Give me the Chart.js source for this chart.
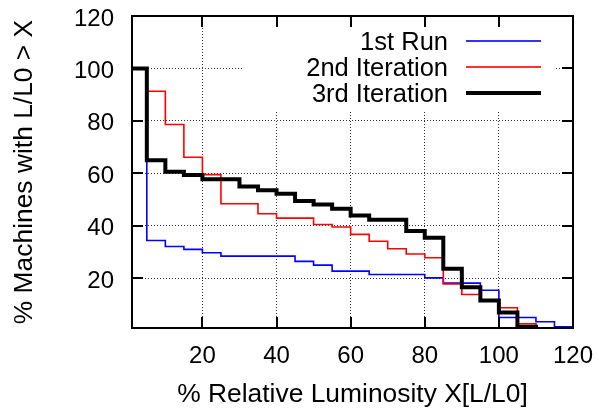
<!DOCTYPE html>
<html lang="en">
<head>
<meta charset="UTF-8">
<title>Relative Luminosity</title>
<script src="https://cdn.jsdelivr.net/npm/chart.js"></script>
<style>
  html, body { margin: 0; padding: 0; background: #fff; overflow: hidden; }
  #wrap { position: relative; width: 599px; height: 409px; }
  canvas { display: block; }
  .frame { position: absolute; box-sizing: border-box; border: 2px solid #000; pointer-events: none; }
  .tick { position: absolute; background: #000; pointer-events: none; }
</style>
</head>
<body>
<div id="wrap"><canvas id="lumChart" width="599" height="409"></canvas></div>
<script>
// --- DATA ---
// bin edges in % relative luminosity, one value per bin (% machines above X)
const binEdges = [0, 5, 10, 15, 20, 25, 30, 35, 40, 45, 50, 55, 60, 65, 70, 75, 80, 85, 90, 95, 100, 105, 110, 115, 120];
const firstRun = [100, 34.4, 32.1, 31.0, 29.7, 28.4, 28.4, 28.4, 28.4, 26.4, 25.0, 22.7, 22.7, 21.4, 21.4, 21.4, 20.1, 18.1, 18.1, 15.4, 5.0, 5.0, 3.4, 1.5];
const secondIteration = [100, 91.3, 78.6, 66.1, 59.5, 48.4, 48.4, 44.6, 42.9, 42.9, 40.5, 39.5, 36.7, 34.1, 31.2, 29.2, 27.8, 17.8, 13.8, 11.4, 8.7, 2.6];
const thirdIteration = [100, 65.0, 60.6, 59.4, 57.7, 57.7, 55.0, 53.5, 52.2, 49.4, 48.1, 46.5, 43.9, 42.3, 42.3, 38.0, 35.4, 23.6, 16.5, 11.5, 6.9, 1.5];
const seriesNames = ['1st Run', '2nd Iteration', '3rd Iteration'];
const xTicks = [20, 40, 60, 80, 100, 120];
const yTicks = [20, 40, 60, 80, 100, 120];
const xRange = [1, 120];
const yRange = [1, 120];

const FONT = "'Liberation Sans', Arial, Helvetica, sans-serif";
Chart.defaults.font.family = FONT;
Chart.defaults.color = '#000';

// histogram -> step points (value holds until the next edge, last one drops to zero)
function toSteps(values) {
    const pts = values.map((v, i) => ({ x: binEdges[i], y: v }));
    pts.push({ x: binEdges[values.length], y: values[values.length - 1] });
    pts.push({ x: binEdges[values.length], y: 0 });
    return pts;
}

// no extra room for edge labels, the layout padding places the plot box
function fixPadding(s) {
    s.paddingTop = s.paddingBottom = s.paddingLeft = s.paddingRight = 0;
}

// plot box taken straight from the scales
function plotBox(chart) {
    const { x, y } = chart.scales;
    return {
        left: x.getPixelForValue(xRange[0]),
        right: x.getPixelForValue(xRange[1]),
        top: y.getPixelForValue(yRange[1]),
        bottom: y.getPixelForValue(yRange[0])
    };
}

// opaque key area + the key itself
const gnuplotKey = {
    id: 'gnuplotKey',
    beforeDatasetsDraw(chart) {
        const b = plotBox(chart);
        const ctx = chart.ctx;
        ctx.save();
        ctx.fillStyle = '#fff';
        ctx.fillRect(242, b.top + 1, 314, 94);
        ctx.restore();
    },
    afterDraw(chart) {
        const ctx = chart.ctx;
        ctx.save();
        ctx.font = '25.5px ' + FONT;
        ctx.textAlign = 'right';
        ctx.textBaseline = 'middle';
        chart.data.datasets.forEach((ds, i) => {
            const ly = 41 + i * 26;
            ctx.fillStyle = '#000';
            ctx.fillText(ds.label, 448, ly + 2);
            ctx.fillStyle = ds.borderColor;
            ctx.fillRect(466, ly - ds.borderWidth / 2, 75, ds.borderWidth);
        });
        ctx.restore();
    }
};

const ctx = document.getElementById('lumChart').getContext('2d');
const chart = new Chart(ctx, {
    type: 'line',
    data: {
        datasets: [
            { label: seriesNames[0], data: toSteps(firstRun), borderColor: '#0000ff', borderWidth: 1.6, order: 3 },
            { label: seriesNames[1], data: toSteps(secondIteration), borderColor: '#ff0000', borderWidth: 1.6, order: 2 },
            { label: seriesNames[2], data: toSteps(thirdIteration), borderColor: '#000000', borderWidth: 4, order: 1 }
        ].map(d => Object.assign(d, { stepped: 'before', pointRadius: 0, fill: false, borderJoinStyle: 'miter' }))
    },
    options: {
        responsive: false,
        animation: false,
        layout: { padding: { top: 16, right: 26, left: 0, bottom: 0 } },
        plugins: { legend: { display: false }, tooltip: { enabled: false } },
        scales: {
            x: {
                type: 'linear',
                min: xRange[0],
                max: xRange[1],
                afterBuildTicks: s => { s.ticks = xTicks.map(v => ({ value: v })); },
                afterFit: s => { s.height = 81; fixPadding(s); },
                ticks: { font: { size: 24 }, padding: 14, maxRotation: 0 },
                grid: { drawTicks: false, color: '#333', lineWidth: 1 },
                border: { display: true, color: '#000', width: 2, dash: [1, 2] },
                title: { display: true, text: '% Relative Luminosity X[L/L0]', font: { size: 26.4, lineHeight: 1 }, padding: { top: 0, bottom: 1 } }
            },
            y: {
                min: yRange[0],
                max: yRange[1],
                afterBuildTicks: s => { s.ticks = yTicks.map(v => ({ value: v })); },
                afterFit: s => { s.width = 132; fixPadding(s); },
                ticks: { font: { size: 24 }, padding: 18, labelOffset: 3 },
                grid: { drawTicks: false, color: '#333', lineWidth: 1 },
                border: { display: true, color: '#000', width: 2, dash: [1, 2] },
                title: { display: true, text: '% Machines with L/L0 > X', font: { size: 26.4 }, padding: { top: 8.5, bottom: 0 } }
            }
        }
    },
    plugins: [gnuplotKey]
});

// border box and inward ticks on all four sides, placed from the scales
const wrap = document.getElementById('wrap');
const b = plotBox(chart);
function addEl(cls, left, top, width, height) {
    const el = document.createElement('div');
    el.className = cls;
    el.style.left = left + 'px';
    el.style.top = top + 'px';
    el.style.width = width + 'px';
    el.style.height = height + 'px';
    wrap.appendChild(el);
}
addEl('frame', Math.round(b.left) - 1, Math.round(b.top) - 1, Math.round(b.right - b.left) + 2, Math.round(b.bottom - b.top) + 2);
xTicks.slice(0, -1).forEach(v => {
    const px = Math.round(chart.scales.x.getPixelForValue(v));
    addEl('tick', px - 1, Math.round(b.bottom) - 11, 2, 11);
    addEl('tick', px - 1, Math.round(b.top), 2, 11);
});
yTicks.slice(0, -1).forEach(v => {
    const py = Math.round(chart.scales.y.getPixelForValue(v));
    addEl('tick', Math.round(b.left), py - 1, 11, 2);
    addEl('tick', Math.round(b.right) - 11, py - 1, 11, 2);
});
</script>
</body>
</html>
